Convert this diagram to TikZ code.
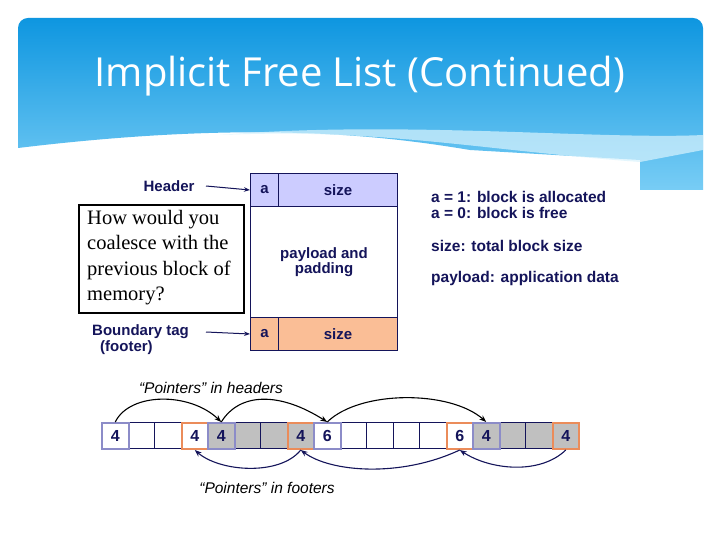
\documentclass[tikz,border=0pt]{standalone}
\usepackage{fontspec}
\setmainfont{Liberation Sans}
\newfontfamily\titlefont{Open Sans}
\newfontfamily\serif{Liberation Serif}
\usetikzlibrary{arrows.meta}
\definecolor{navy}{RGB}{20,20,90}
\definecolor{hdr}{RGB}{204,204,255}
\definecolor{ftr}{RGB}{250,190,150}
\definecolor{bord}{RGB}{140,140,200}
\definecolor{obord}{RGB}{235,140,90}
\definecolor{cellgray}{RGB}{192,192,192}
\definecolor{bantop}{RGB}{14,150,224}
\definecolor{banbot}{RGB}{120,205,245}
\begin{document}
\begin{tikzpicture}[x=1pt,y=-1pt,
  lbl/.style={font=\bfseries\fontsize{15}{16}\selectfont,text=navy},
  cell/.style={draw=navy,line width=0.6pt,minimum width=26.5pt,minimum height=26pt,inner sep=0pt,anchor=north west,font=\bfseries\fontsize{16}{17}\selectfont,text=navy},
  hc/.style={cell,draw=bord,line width=2pt},
  fc/.style={cell,draw=obord,line width=2pt},
  ptr/.style={-{Stealth[length=7pt]},line width=1.1pt}]
\useasboundingbox (0,0) rectangle (720,540);
\fill[white] (0,0) rectangle (720,540);
% banner
\shade[top color=bantop, bottom color=banbot]
  (18,28) to[out=90,in=180] (28,18) -- (693,18) to[out=0,in=90] (703,28) -- (703,190) -- (640,190) -- (640,160) -- (470,150)
  .. controls (380,135) and (250,120) .. (18,148) -- cycle;
\fill[cyan!15,opacity=0.7] (220,135) .. controls (380,128) and (480,150) .. (640,162) -- (703,150) -- (703,135) .. controls (600,140) and (400,120) .. cycle;
\node[font=\titlefont\fontsize{40}{44}\selectfont,text=white] (title) at (360,76) {Implicit Free List (Continued)};
% block diagram
\node[draw=navy,line width=1pt,fill=hdr,minimum width=28pt,minimum height=33pt,anchor=north west,inner sep=0pt,lbl] (ha) at (250,173) {a};
\node[draw=navy,line width=1pt,fill=hdr,minimum width=119pt,minimum height=33pt,anchor=north west,inner sep=0pt,lbl] (hs) at (278,173) {size};
\node[draw=navy,line width=1pt,fill=white,minimum width=147pt,minimum height=111pt,anchor=north west,inner sep=0pt,lbl,align=center] (pl) at (250,206) {payload and\\[-1pt]padding};
\node[draw=navy,line width=1pt,fill=ftr,minimum width=28pt,minimum height=33pt,anchor=north west,inner sep=0pt,lbl] (fa) at (250,317) {a};
\node[draw=navy,line width=1pt,fill=ftr,minimum width=119pt,minimum height=33pt,anchor=north west,inner sep=0pt,lbl] (fs) at (278,317) {size};
\node[lbl,anchor=east] (hl) at (198,186) {Header};
\draw[line width=1pt,-{Stealth[length=6pt]},navy] (206,186) -- (ha.west);
\node[lbl,anchor=north west,align=left,inner sep=0pt] (bt) at (92,324) {Boundary tag\\\hspace*{8pt}(footer)};
\draw[line width=1pt,-{Stealth[length=6pt]},navy] (206,332) -- (fa.west);
\node[lbl,anchor=north west,align=left,inner sep=0pt,font=\bfseries\fontsize{15.5}{16}\selectfont] (leg1) at (431,191) {a = 1: block is allocated\\a = 0: block is free};
\node[lbl,anchor=west,inner sep=0pt,font=\bfseries\fontsize{15.5}{16}\selectfont] (leg2) at (431,246) {size: total block size};
\node[lbl,anchor=west,inner sep=0pt,font=\bfseries\fontsize{15.5}{16}\selectfont] (leg3) at (431,278) {payload: application data};
\node[draw=black,line width=2pt,minimum width=165pt,minimum height=108pt,anchor=north west,inner sep=0pt] (qb) at (78,204) {};
\node[font=\serif\fontsize{20.5}{25.5}\selectfont,align=left,anchor=north west,inner sep=0pt] (q) at (87,210) {How would you\\coalesce with the\\previous block of\\memory?};
% cells
\foreach \i/\t/\s/\f in {0/4/hc/white,1//cell/white,2//cell/white,3/4/fc/white,4/4/hc/cellgray,5//cell/cellgray,6//cell/cellgray,7/4/fc/cellgray,8/6/hc/white,9//cell/white,10//cell/white,11//cell/white,12//cell/white,13/6/fc/white,14/4/hc/cellgray,15//cell/cellgray,16//cell/cellgray,17/4/fc/cellgray}
  \node[\s,fill=\f] (c\i) at ({101+26.5*\i},422) {\t};
\foreach \i in {0,4,8,14} \node[hc,fill=none] at ({101+26.5*\i},422) {};
\draw[ptr] (c0.north) .. controls (130,392) and (190,392) .. (c4.north);
\draw[ptr] (c4.north) .. controls (240,392) and (280,392) .. (c8.north);
\draw[ptr] (c8.north) .. controls (360,390) and (450,390) .. (c14.north);
\draw[ptr,navy] (c17.south) .. controls (540,475) and (490,470) .. (c13.south);
\draw[ptr,navy] (c13.south) .. controls (400,478) and (330,472) .. (c7.south);
\draw[ptr,navy] (c7.south) .. controls (280,476) and (220,472) .. (c3.south);
\node[font=\itshape\fontsize{15.5}{16}\selectfont] (ph) at (211,388) {“Pointers” in headers};
\node[font=\itshape\fontsize{15.5}{16}\selectfont] (pf) at (267,488) {“Pointers” in footers};
\end{tikzpicture}
\end{document}
